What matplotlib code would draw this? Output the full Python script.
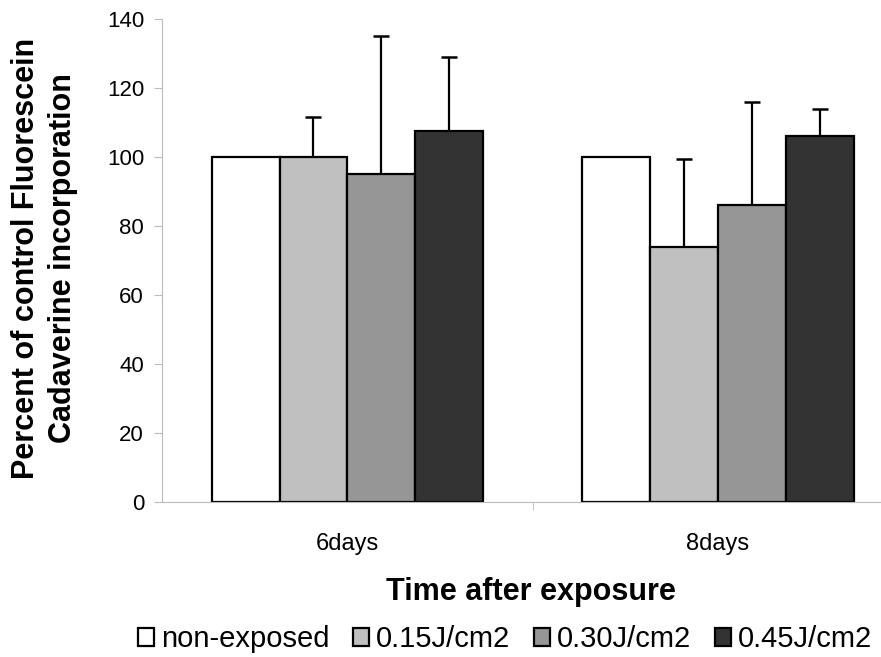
import matplotlib.pyplot as plt
import numpy as np

plt.rcParams["font.family"] = ["Liberation Sans", "DejaVu Sans"]

groups = ["6days", "8days"]
series = ["non-exposed", "0.15J/cm2", "0.30J/cm2", "0.45J/cm2"]
values = {
    "non-exposed": [100, 100],
    "0.15J/cm2": [100, 74],
    "0.30J/cm2": [95, 86],
    "0.45J/cm2": [107.5, 106],
}
errors = {
    "non-exposed": [0, 0],
    "0.15J/cm2": [11.5, 25.5],
    "0.30J/cm2": [40, 30],
    "0.45J/cm2": [21.5, 8],
}
colors = ["#ffffff", "#c0c0c0", "#969696", "#333333"]

fig = plt.figure(figsize=(8.81, 6.57), dpi=100)
ax = fig.add_axes([0.184, 0.236, 0.816, 0.735])

x = np.arange(len(groups))
width = 0.183
for i, name in enumerate(series):
    pos = x + (i - 1.5) * width
    err = errors[name]
    ax.bar(pos, values[name], width, color=colors[i], edgecolor="black",
           linewidth=1.6, label=name, zorder=2)
    if any(err):
        ax.errorbar(pos, values[name], yerr=[np.zeros(len(err)), err],
                    fmt="none", ecolor="black", elinewidth=1.6, capsize=6,
                    capthick=1.8, zorder=1)

ax.set_ylim(0, 140)
ax.set_yticks(range(0, 141, 20))
ax.set_xlim(-0.5, 1.44)
ax.set_xticks([0.5], minor=True)
ax.set_xticks(x)
ax.set_xticklabels(groups)
ax.tick_params(axis="x", which="major", length=0, pad=22, labelsize=17)
ax.tick_params(axis="x", which="minor", length=6, color="#bbbbbb", direction="out")
ax.tick_params(axis="y", length=6, color="#bbbbbb", labelsize=16, pad=7)

for side in ["top", "right"]:
    ax.spines[side].set_visible(False)
ax.spines["left"].set_color("#bbbbbb")
ax.spines["bottom"].set_color("#bbbbbb")

ax.set_ylabel("Percent of control Fluorescein\nCadaverine incorporation",
              fontsize=22, fontweight="bold", linespacing=1.3)
ax.yaxis.set_label_coords(-0.117, 0.505)
ax.set_xlabel("Time after exposure", fontsize=22, fontweight="bold")
ax.xaxis.set_label_coords(0.513, -0.155)

fig.legend(loc="center", bbox_to_anchor=(0.573, 0.027), ncol=4,
           frameon=False, fontsize=21, handlelength=0.55, handleheight=0.55,
           handletextpad=0.25, columnspacing=0.8)

plt.savefig("out.png", dpi=100)
plt.close()
